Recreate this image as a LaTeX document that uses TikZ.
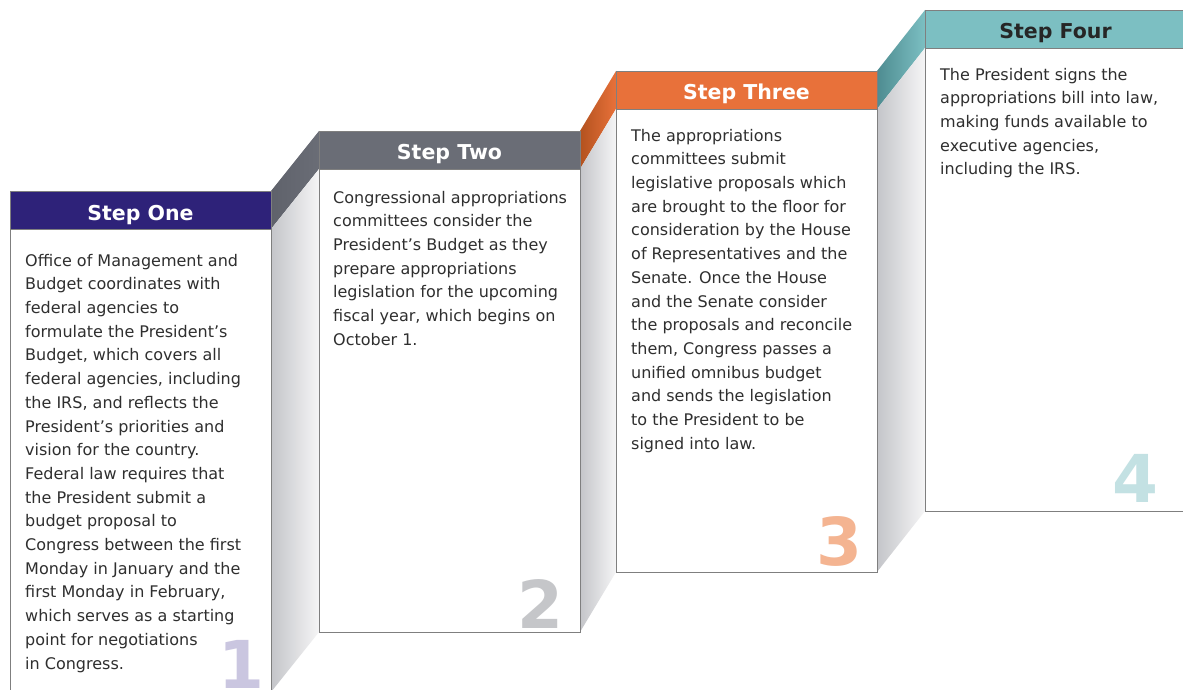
\documentclass[tikz,border=0pt]{standalone}
\usepackage{fontspec}
\setmainfont{DejaVu Sans}
\pgfdeclarelayer{background}
\pgfsetlayers{background,main}
\definecolor{oneC}{HTML}{2E2279}
\definecolor{twoC}{HTML}{6A6D76}
\definecolor{twoD}{HTML}{5F626B}
\definecolor{threeC}{HTML}{E8713A}
\definecolor{threeD}{HTML}{B3521F}
\definecolor{fourC}{HTML}{7CBFC2}
\definecolor{fourD}{HTML}{4E8C91}
\definecolor{faceL}{HTML}{C4C5C9}
\definecolor{faceR}{HTML}{F5F5F6}
\definecolor{borderC}{HTML}{7F7F7F}
\definecolor{txtC}{HTML}{2F2F2F}
\definecolor{numA}{HTML}{CAC6E0}
\definecolor{numB}{HTML}{C5C6C9}
\definecolor{numC}{HTML}{F4B491}
\definecolor{numD}{HTML}{C3E1E3}
\pgfdeclarehorizontalshading{faceSh}{100bp}{color(0bp)=(faceL); color(25bp)=(faceL); color(75bp)=(faceR); color(100bp)=(faceR)}
\pgfdeclarehorizontalshading{twoSh}{100bp}{color(0bp)=(twoD); color(25bp)=(twoD); color(75bp)=(twoC); color(100bp)=(twoC)}
\pgfdeclarehorizontalshading{threeSh}{100bp}{color(0bp)=(threeD); color(25bp)=(threeD); color(75bp)=(threeC); color(100bp)=(threeC)}
\pgfdeclarehorizontalshading{fourSh}{100bp}{color(0bp)=(fourD); color(25bp)=(fourD); color(75bp)=(fourC); color(100bp)=(fourC)}
\tikzset{
  card/.style={draw=borderC, line width=0.9pt, fill=white, minimum width=261pt, minimum height=501pt, anchor=north west, inner sep=0pt, outer sep=0pt},
  hdr/.style={draw=borderC, line width=0.9pt, minimum width=261pt, minimum height=38pt, anchor=north west, inner sep=0pt, outer sep=0pt, font=\fontsize{20.5}{24}\selectfont\bfseries, text height=20pt, text depth=0pt},
  body/.style={anchor=north west, inner sep=0pt, align=left, text=txtC, font=\fontsize{16}{23.7}\selectfont},
  numb/.style={anchor=base east, inner sep=0pt, font=\bfseries\fontsize{66}{66}\selectfont},
  face/.style={shading=faceSh, shading angle=0}
}
\begin{document}
\begin{tikzpicture}[x=1pt,y=-1pt]
\useasboundingbox (0,0) rectangle (1183,690);
% cards
\node[card] (c1) at (10,191) {};
\node[card] (c2) at (319,131) {};
\node[card] (c3) at (616,71) {};
\node[card] (c4) at (925,10) {};
% headers
\node[hdr, fill=oneC, text=white] (h1) at (c1.north west) {Step One};
\node[hdr, fill=twoC, text=white] (h2) at (c2.north west) {Step Two};
\node[hdr, fill=threeC, text=white] (h3) at (c3.north west) {Step Three};
\node[hdr, fill=fourC, text=black!85] (h4) at (c4.north west) {Step Four};
% connectors
\begin{pgfonlayer}{background}
\fill[white] (0,0) rectangle (1183,690);
\shade[shading=twoSh, shading angle=0] (h1.north east) -- (h2.north west) -- (h2.south west) -- (h1.south east) -- cycle;
\shade[face] (h1.south east) -- (h2.south west) -- (c2.south west) -- (c1.south east) -- cycle;
\shade[shading=threeSh, shading angle=0] (h2.north east) -- (h3.north west) -- (h3.south west) -- (h2.south east) -- cycle;
\shade[face] (h2.south east) -- (h3.south west) -- (c3.south west) -- (c2.south east) -- cycle;
\shade[shading=fourSh, shading angle=0] (h3.north east) -- (h4.north west) -- (h4.south west) -- (h3.south east) -- cycle;
\shade[face] (h3.south east) -- (h4.south west) -- (c4.south west) -- (c3.south east) -- cycle;
\end{pgfonlayer}
% numbers
\node[numb, text=numA] (n1) at (265,688) {1};
\node[numb, text=numB] (n2) at (564,628) {2};
\node[numb, text=numC] (n3) at (863,565) {3};
\node[numb, text=numD] (n4) at (1159,502) {4};
% body texts
\node[body] (t1) at (25,253.8) {Office of Management and\\Budget coordinates with\\federal agencies to\\formulate the President’s\\Budget, which covers all\\federal agencies, including\\the IRS, and reflects the\\President’s priorities and\\vision for the country.\\Federal law requires that\\the President submit a\\budget proposal to\\Congress between the first\\Monday in January and the\\first Monday in February,\\which serves as a starting\\point for negotiations\\in Congress.};
\node[body] (t2) at (333,190.8) {Congressional appropriations\\committees consider the\\President’s Budget as they\\prepare appropriations\\legislation for the upcoming\\fiscal year, which begins on\\October 1.};
\node[body] (t3) at (631,128.8) {The appropriations\\committees submit\\legislative proposals which\\are brought to the floor for\\consideration by the House\\of Representatives and the\\Senate. Once the House\\and the Senate consider\\the proposals and reconcile\\them, Congress passes a\\unified omnibus budget\\and sends the legislation\\to the President to be\\signed into law.};
\node[body] (t4) at (940,67.8) {The President signs the\\appropriations bill into law,\\making funds available to\\executive agencies,\\including the IRS.};
\end{tikzpicture}
\end{document}
